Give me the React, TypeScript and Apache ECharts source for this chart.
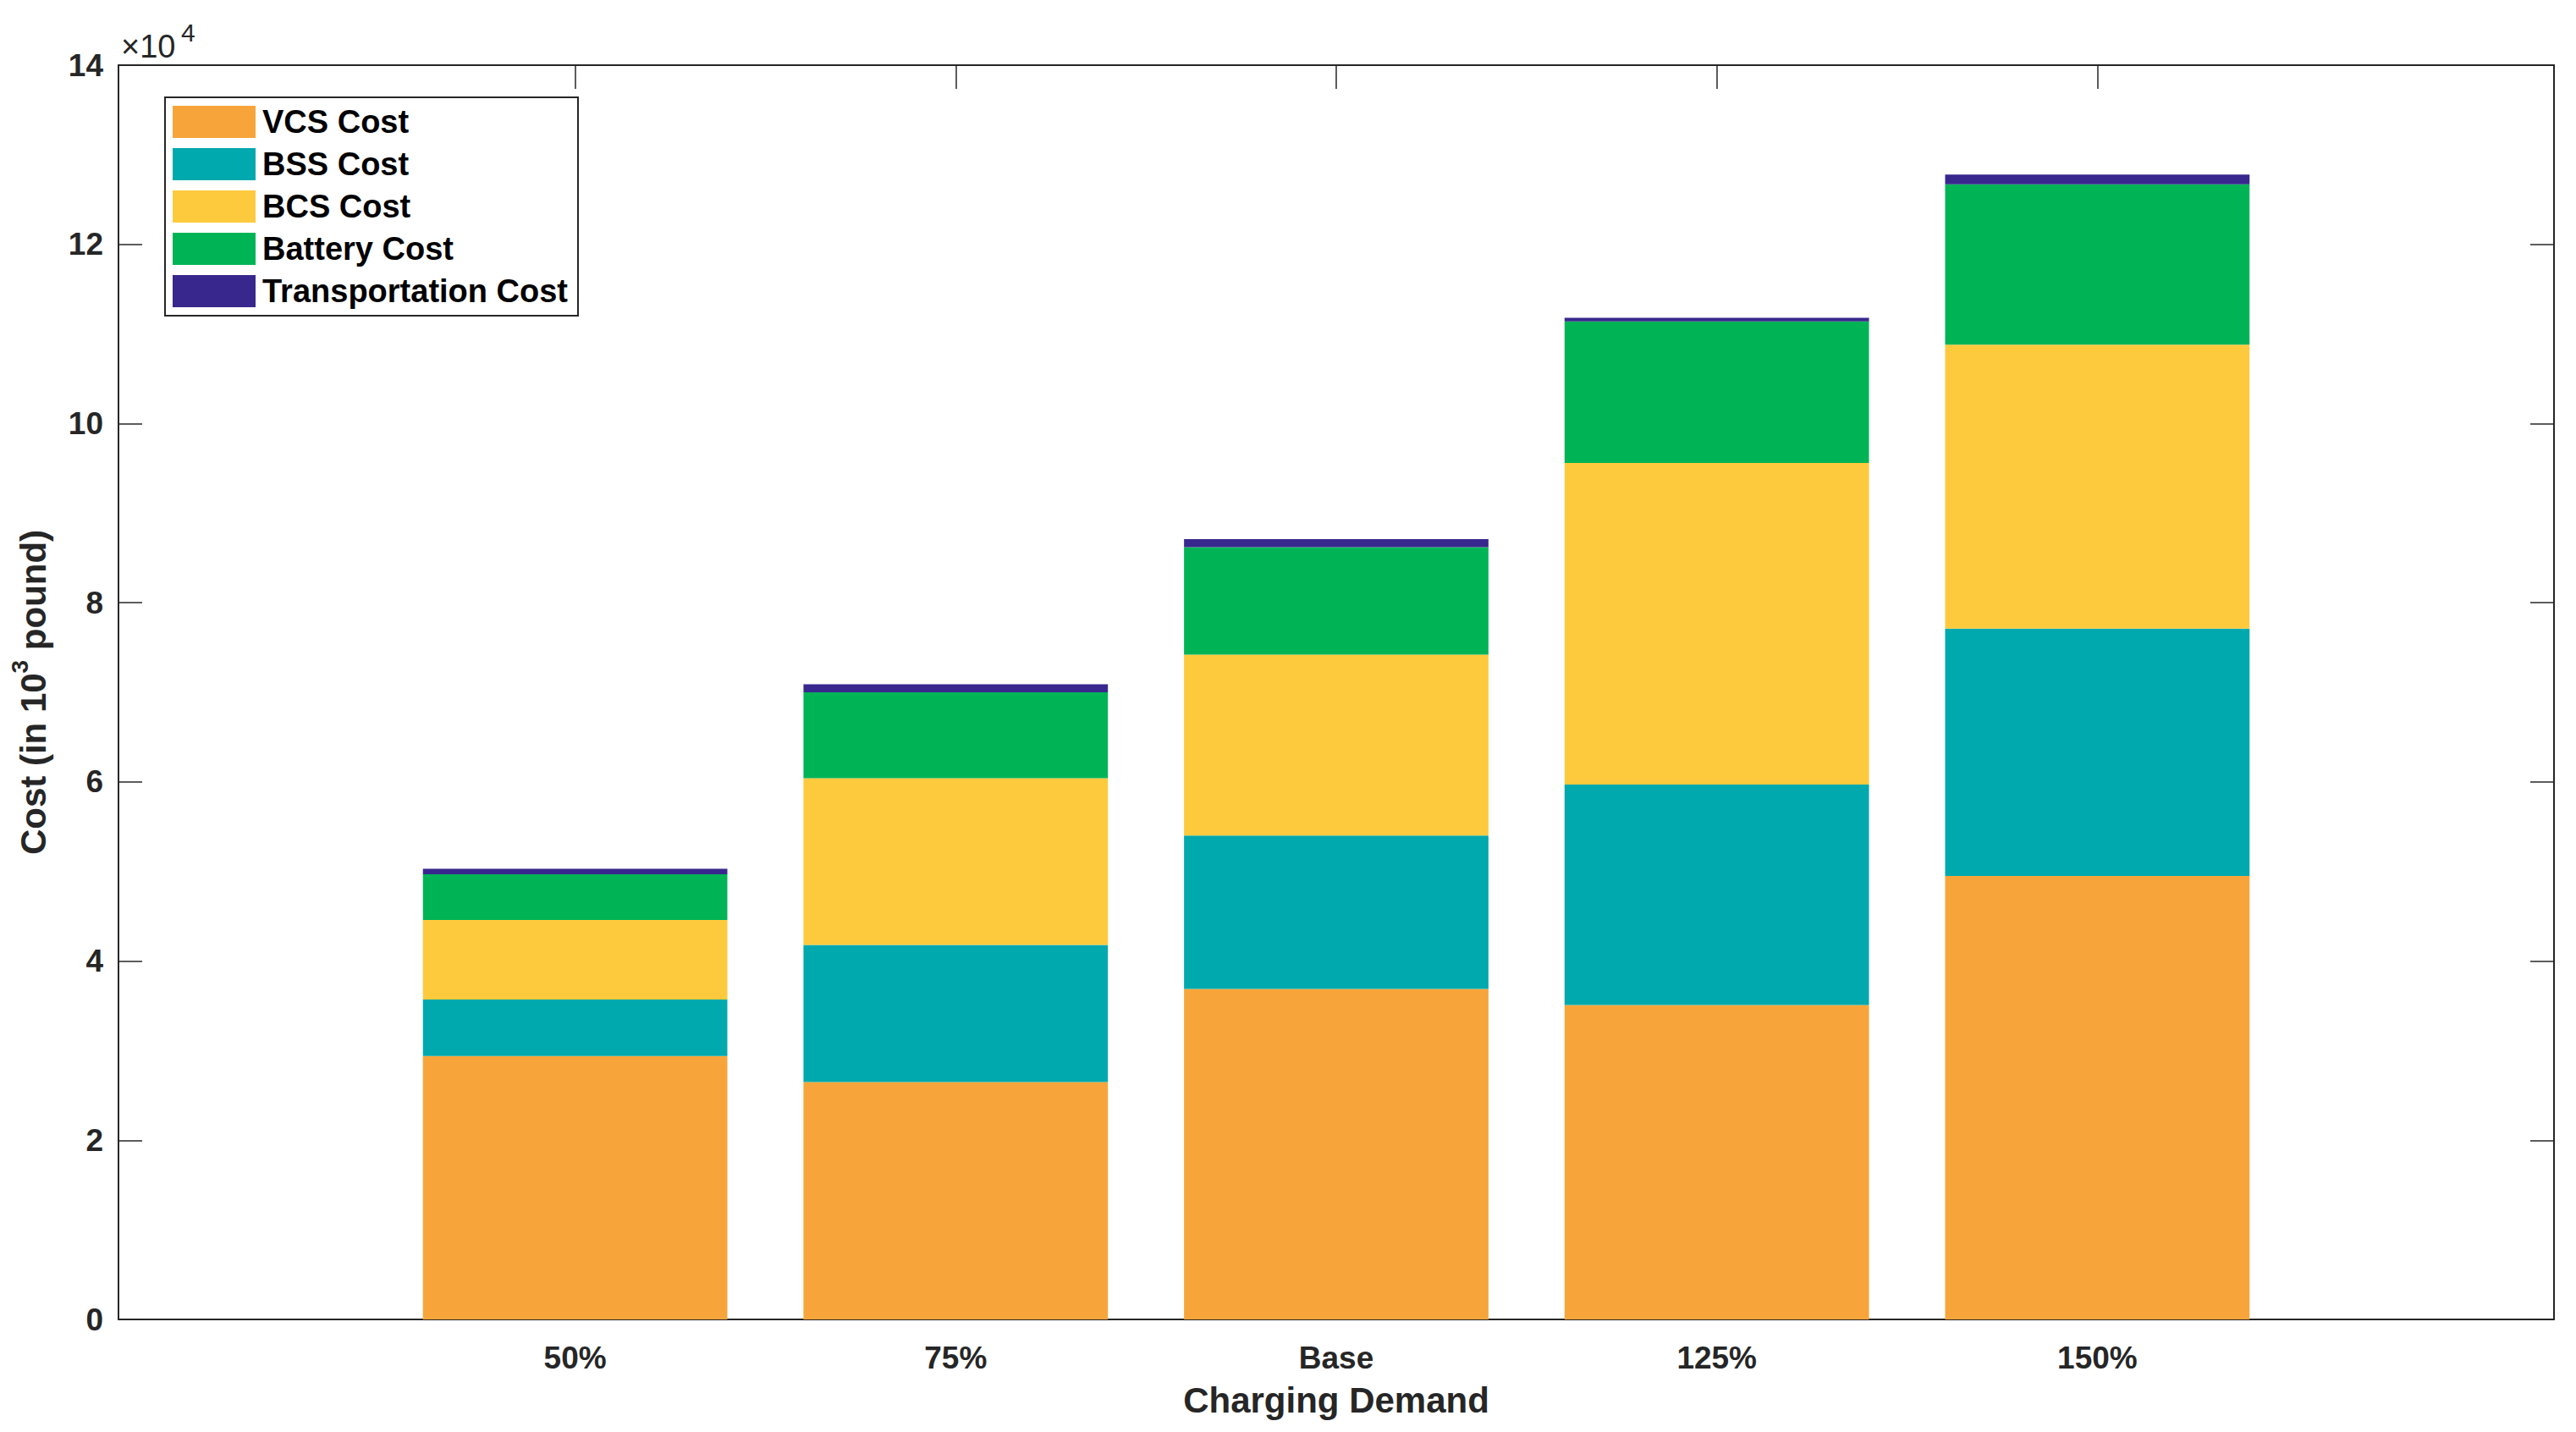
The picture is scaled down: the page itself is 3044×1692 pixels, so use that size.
import React, { useEffect, useRef } from "react";
import * as echarts from "echarts";

const categories = ["50%", "75%", "Base", "125%", "150%"];
const vcsCost = [29400, 26500, 36900, 35100, 49500];
const bssCost = [6300, 15300, 17100, 24600, 27600];
const bcsCost = [8900, 18600, 20200, 35900, 31700];
const batteryCost = [5100, 9600, 12000, 15800, 17900];
const transportationCost = [600, 900, 900, 400, 1100];

const seriesNames = ["VCS Cost", "BSS Cost", "BCS Cost", "Battery Cost", "Transportation Cost"];
const seriesValues = [vcsCost, bssCost, bcsCost, batteryCost, transportationCost];
const seriesColors = ["#F7A53A", "#00A9AE", "#FDCA3E", "#00B456", "#38288E"];

const yMin = 0;
const yMax = 140000;
const yStep = 20000;
const xMin = -0.2;
const xMax = 6.2;
const xTickValues = [1, 2, 3, 4, 5];

const W = 3044;
const H = 1692;
const GRID = { left: 140, right: 26, top: 77, bottom: 133 };
const FONT = "'Liberation Sans', Arial, Helvetica, sans-serif";
const AXIS_COLOR = "#262626";

export default function App() {
  const ref = useRef<HTMLDivElement>(null);

  useEffect(() => {
    document.body.style.margin = "0";
    document.body.style.overflow = "hidden";
    if (!ref.current) return;
    const chart = echarts.init(ref.current, null, { renderer: "svg" });

    const plotW = W - GRID.left - GRID.right;
    const barWidth = (plotW / (xMax - xMin)) * 0.8;

    const axisLine = { show: true, onZero: false, lineStyle: { color: AXIS_COLOR, width: 2 } };
    const tickStyle = { color: AXIS_COLOR, width: 1.5 };
    const labelText = {
      fontFamily: FONT,
      fontWeight: "bold" as const,
      fontSize: 37,
      color: AXIS_COLOR,
    };

    const option: any = {
      animation: false,
      backgroundColor: "#ffffff",
      grid: { ...GRID, containLabel: false },
      legend: {
        orient: "vertical",
        left: 195,
        top: 115,
        width: 490,
        padding: [10, 12, 10, 9],
        itemWidth: 98,
        itemHeight: 38,
        itemGap: 12,
        icon: "rect",
        borderColor: AXIS_COLOR,
        borderWidth: 2,
        backgroundColor: "#ffffff",
        selectedMode: false,
        textStyle: {
          fontFamily: FONT,
          fontWeight: "bold",
          fontSize: 38,
          color: "#000000",
          lineHeight: 38,
          padding: [0, 0, 0, 3],
        },
        data: seriesNames,
      },
      xAxis: [
        {
          type: "value",
          position: "bottom",
          min: xMin,
          max: xMax,
          axisLine,
          splitLine: { show: false },
          axisTick: { show: true, inside: true, length: 28, customValues: xTickValues, lineStyle: tickStyle },
          axisLabel: {
            show: true,
            customValues: xTickValues,
            margin: 27,
            formatter: (v: number) => categories[Math.round(v) - 1] ?? "",
            ...labelText,
          },
          name: "Charging Demand",
          nameLocation: "middle",
          nameGap: 74,
          nameTextStyle: { fontFamily: FONT, fontWeight: "bold", fontSize: 42, color: AXIS_COLOR },
        },
        {
          type: "value",
          position: "top",
          min: xMin,
          max: xMax,
          axisLine,
          splitLine: { show: false },
          axisTick: { show: true, inside: true, length: 28, customValues: xTickValues, lineStyle: tickStyle },
          axisLabel: { show: false },
        },
      ],
      yAxis: [
        {
          type: "value",
          position: "left",
          min: yMin,
          max: yMax,
          interval: yStep,
          axisLine,
          splitLine: { show: false },
          axisTick: { show: true, inside: true, length: 28, lineStyle: tickStyle },
          axisLabel: {
            show: true,
            margin: 18,
            formatter: (v: number) => String(v / 10000),
            ...labelText,
          },
          name: "Cost (in 10{sup|3} pound)",
          nameLocation: "middle",
          nameGap: 64,
          nameRotate: 90,
          nameTextStyle: {
            fontFamily: FONT,
            fontWeight: "bold",
            fontSize: 42,
            lineHeight: 60,
            color: AXIS_COLOR,
            rich: {
              sup: {
                fontFamily: FONT,
                fontWeight: "bold",
                fontSize: 28,
                lineHeight: 28,
                verticalAlign: "top",
                color: AXIS_COLOR,
              },
            },
          },
        },
        {
          type: "value",
          position: "right",
          min: yMin,
          max: yMax,
          interval: yStep,
          axisLine,
          splitLine: { show: false },
          axisTick: { show: true, inside: true, length: 28, lineStyle: tickStyle },
          axisLabel: { show: false },
        },
      ],
      graphic: [
        {
          type: "text",
          style: {
            x: 143,
            y: 55,
            text: "×10",
            fontFamily: FONT,
            fontSize: 38,
            fill: AXIS_COLOR,
            align: "left",
            verticalAlign: "middle",
          },
        },
        {
          type: "text",
          style: {
            x: 214,
            y: 38,
            text: "4",
            fontFamily: FONT,
            fontSize: 30,
            fill: AXIS_COLOR,
            align: "left",
            verticalAlign: "middle",
          },
        },
      ],
      series: seriesNames.map((name, si) => ({
        name,
        type: "bar",
        stack: "total",
        xAxisIndex: 0,
        yAxisIndex: 0,
        barWidth,
        itemStyle: { color: seriesColors[si] },
        emphasis: { disabled: true },
        encode: { x: 1, y: 0 },
        data: seriesValues[si].map((v, i) => [v, i + 1]),
      })),
    };

    chart.setOption(option);
    return () => chart.dispose();
  }, []);

  return <div ref={ref} style={{ width: W, height: H }} />;
}
